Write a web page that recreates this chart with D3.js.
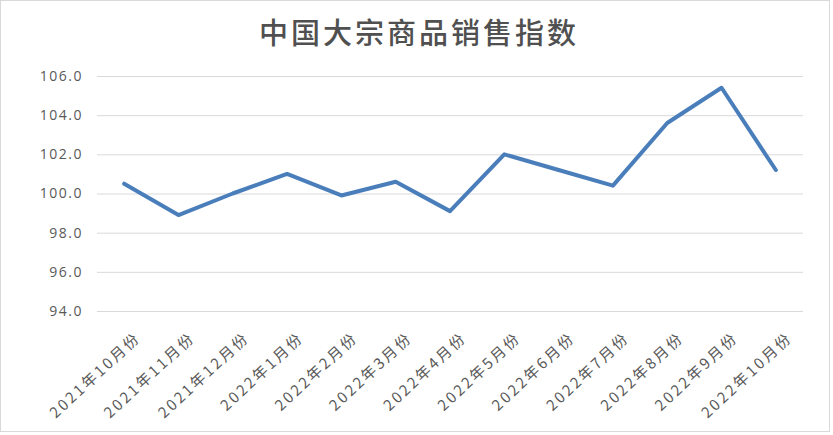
<!DOCTYPE html>
<html><head><meta charset="utf-8">
<script src="https://cdn.jsdelivr.net/npm/d3@7"></script>
<style>
html,body{margin:0;padding:0;background:#fff;}
svg{display:block;}
</style></head>
<body>
<svg id="chart" width="833" height="435"></svg>
<script>
const title = "中国大宗商品销售指数";
const categories = ["2021年10月份","2021年11月份","2021年12月份","2022年1月份","2022年2月份","2022年3月份","2022年4月份","2022年5月份","2022年6月份","2022年7月份","2022年8月份","2022年9月份","2022年10月份"];
const values = [100.5, 98.9, 100.0, 101.0, 99.9, 100.6, 99.1, 102.0, 101.2, 100.4, 103.6, 105.4, 101.2];
const yTicks = [94, 96, 98, 100, 102, 104, 106];

(function(){
const svg = d3.select("#chart");
const W = 833, H = 435;
const mL = 97, mR = 803, mT = 76, mB = 311;

svg.append("rect").attr("x",0.5).attr("y",0.5).attr("width",W-4).attr("height",H-4)
  .attr("fill","#fff").attr("stroke","#d9d9d9").attr("stroke-width",1);

svg.append("text").attr("x", 419).attr("y", 44).attr("text-anchor","middle")
  .attr("font-family","'Noto Sans CJK SC', sans-serif").attr("font-size",29).attr("font-weight",500)
  .attr("letter-spacing",3)
  .attr("fill","#505050").text(title);

const x = d3.scalePoint().domain(categories).range([mL, mR]).padding(0.5);
const y = d3.scaleLinear().domain([94, 106]).range([mB, mT]);

const yAxis = d3.axisLeft(y).tickValues(yTicks).tickFormat(d3.format(".1f")).tickSize(-(mR-mL)).tickPadding(14);
const gy = svg.append("g").attr("transform",`translate(${mL},0)`).call(yAxis);
gy.select(".domain").remove();
gy.selectAll(".tick line").attr("stroke","#d9d9d9").attr("stroke-width",1);
gy.selectAll(".tick text").attr("fill","#595959").attr("font-size",14)
  .attr("letter-spacing",1.5)
  .attr("font-family","'Open Sans','Liberation Sans',sans-serif");

const xAxis = d3.axisBottom(x).tickSize(0).tickPadding(0);
const gx = svg.append("g").attr("transform",`translate(0,${mB})`).call(xAxis);
gx.select(".domain").remove();
gx.selectAll(".tick text")
  .attr("fill","#595959").attr("font-size",15)
  .attr("letter-spacing",2.5)
  .attr("font-family","'Noto Sans CJK SC', sans-serif")
  .attr("text-anchor","end")
  .attr("dy",null).attr("y",0)
  .attr("transform","translate(17,28) rotate(-43)");

const line = d3.line().x((d,i)=>x(categories[i])).y(d=>y(d));
svg.append("path").datum(values).attr("d",line).attr("fill","none")
  .attr("stroke","#4a7ebb").attr("stroke-width",4).attr("stroke-linejoin","round").attr("stroke-linecap","round");
})();
</script>
</body></html>
